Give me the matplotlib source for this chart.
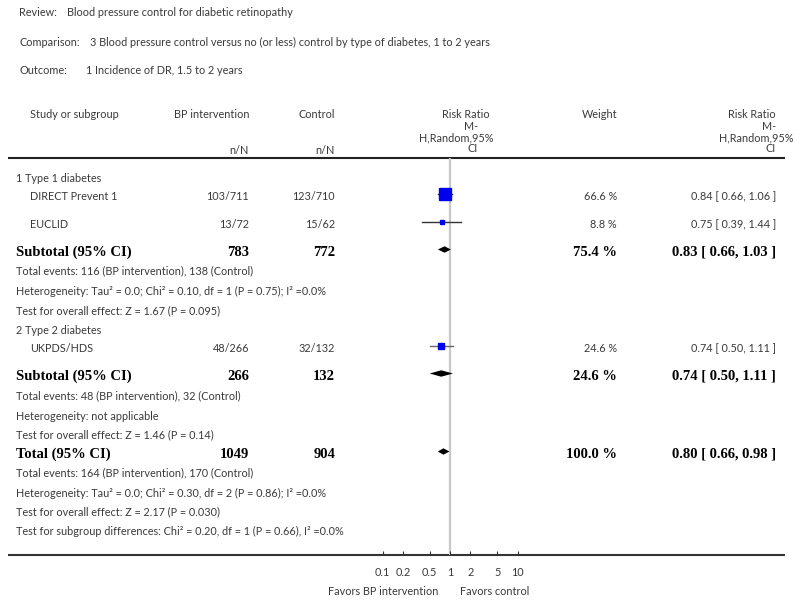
import numpy as np
import matplotlib
matplotlib.use('Agg')
import matplotlib.pyplot as plt

# header info
review = 'Blood pressure control for diabetic retinopathy'
comparison = '3 Blood pressure control versus no (or less) control by type of diabetes, 1 to 2 years'
outcome = '1 Incidence of DR, 1.5 to 2 years'

# study level data
groups = ['1 Type 1 diabetes', '2 Type 2 diabetes']
studies = ['DIRECT Prevent 1', 'EUCLID', 'UKPDS/HDS']
bp_events = [103, 13, 48]
bp_total = [711, 72, 266]
ctl_events = [123, 15, 32]
ctl_total = [710, 62, 132]
rr = [0.84, 0.75, 0.74]
rr_lo = [0.66, 0.39, 0.50]
rr_hi = [1.06, 1.44, 1.11]
weight = [66.6, 8.8, 24.6]

# subtotals / total
sum_labels = ['Subtotal (95% CI)', 'Subtotal (95% CI)', 'Total (95% CI)']
sum_bp_n = [783, 266, 1049]
sum_ctl_n = [772, 132, 904]
sum_weight = [75.4, 24.6, 100.0]
sum_rr = [0.83, 0.74, 0.80]
sum_lo = [0.66, 0.50, 0.66]
sum_hi = [1.03, 1.11, 0.98]

foot1 = ['Total events: 116 (BP intervention), 138 (Control)',
         'Heterogeneity: Tau² = 0.0; Chi² = 0.10, df = 1 (P = 0.75); I² =0.0%',
         'Test for overall effect: Z = 1.67 (P = 0.095)']
foot2 = ['Total events: 48 (BP intervention), 32 (Control)',
         'Heterogeneity: not applicable',
         'Test for overall effect: Z = 1.46 (P = 0.14)']
foot3 = ['Total events: 164 (BP intervention), 170 (Control)',
         'Heterogeneity: Tau² = 0.0; Chi² = 0.30, df = 2 (P = 0.86); I² =0.0%',
         'Test for overall effect: Z = 2.17 (P = 0.030)',
         'Test for subgroup differences: Chi² = 0.20, df = 1 (P = 0.66), I² =0.0%']

xticks = [0.1, 0.2, 0.5, 1, 2, 5, 10]
xtick_labels = ['0.1', '0.2', '0.5', '1', '2', '5', '10']

# layout (pixel rows, y down)
W, H = 800, 602
study_y = [197, 225, 349]
group_y = [178, 330]
sum_y = [252, 376, 454]
foot_y = [[271, 291, 311], [396, 416, 435], [473, 493, 512, 531]]
mark_off = 3

sans = 'Lato'
serif = 'Liberation Serif'
fs = 7.8
fs_b = 10.5
grey = '#3a3a3a'

fig = plt.figure(figsize=(W / 100, H / 100), dpi=100)
tx = fig.add_axes([0, 0, 1, 1])
tx.set_xlim(0, W)
tx.set_ylim(H, 0)
tx.axis('off')

def t(x, y, s, ha='left', bold=False, size=None):
    if bold:
        tx.text(x, y, s, ha=ha, va='center', fontsize=size or fs_b, family=serif,
                fontweight='bold', color='black')
    else:
        tx.text(x, y, s, ha=ha, va='center', fontsize=size or fs, family=sans, color=grey)

# top info
t(19, 13, 'Review:')
t(67, 13, review)
t(19, 42, 'Comparison:')
t(90, 42, comparison)
t(19, 71, 'Outcome:')
t(86, 71, outcome)

# column headers
t(30, 114, 'Study or subgroup')
t(249, 114, 'BP intervention', ha='right')
t(335, 114, 'Control', ha='right')
t(249, 150, 'n/N', ha='right')
t(335, 150, 'n/N', ha='right')
t(490, 114, 'Risk Ratio', ha='right')
t(478, 126, 'M-', ha='right')
t(493, 137.5, 'H,Random,95%', ha='right')
t(478, 149, 'CI', ha='right')
t(617, 114, 'Weight', ha='right')
t(776, 114, 'Risk Ratio', ha='right')
t(776, 126, 'M-', ha='right')
t(793, 137.5, 'H,Random,95%', ha='right')
t(776, 149, 'CI', ha='right')
tx.plot([8, 785], [157.5, 157.5], color='#222222', lw=1.5, solid_capstyle='butt')
tx.plot([8, 785], [554.7, 554.7], color='#333333', lw=1.5, solid_capstyle='butt')

for g, y in zip(groups, group_y):
    t(16, y, g)

for i, s in enumerate(studies):
    y = study_y[i]
    t(30, y, s)
    t(249, y, f'{bp_events[i]}/{bp_total[i]}', ha='right')
    t(335, y, f'{ctl_events[i]}/{ctl_total[i]}', ha='right')
    t(617, y, f'{weight[i]:.1f} %', ha='right')
    t(776, y, f'{rr[i]:.2f} [ {rr_lo[i]:.2f}, {rr_hi[i]:.2f} ]', ha='right')

for i, s in enumerate(sum_labels):
    y = sum_y[i]
    t(16, y, s, bold=True)
    t(249, y, str(sum_bp_n[i]), ha='right', bold=True)
    t(335, y, str(sum_ctl_n[i]), ha='right', bold=True)
    t(617, y, f'{sum_weight[i]:.1f} %', ha='right', bold=True)
    t(776, y, f'{sum_rr[i]:.2f} [ {sum_lo[i]:.2f}, {sum_hi[i]:.2f} ]', ha='right', bold=True)

for lines, ys in zip([foot1, foot2, foot3], foot_y):
    for s, y in zip(lines, ys):
        t(16, y, s)

t(438, 591.5, 'Favors BP intervention', ha='right')
t(460, 591.5, 'Favors control')

# forest plot axes: x log scale, 1 at x=450 px, 67.5 px per decade
px_dec = 67.5
x0, x1 = 370, 530
y_top, y_bot = 158, 554.7
fx = fig.add_axes([x0 / W, 1 - y_bot / H, (x1 - x0) / W, (y_bot - y_top) / H])
fx.patch.set_alpha(0)
fx.set_xscale('log')
fx.set_xlim(10 ** ((x0 - 450) / px_dec), 10 ** ((x1 - 450) / px_dec))
fx.set_ylim(y_bot, y_top)
for sp in fx.spines.values():
    sp.set_visible(False)
fx.axvline(1, color='#c8c8c8', lw=1.6, zorder=1)

for i in range(len(studies)):
    y = study_y[i] - mark_off
    fx.plot([rr_lo[i], rr_hi[i]], [y, y], color='#333333' if i < 2 else '#666666', lw=1, zorder=2)
    side = 1.35 * np.sqrt(weight[i]) * 0.72
    fx.plot(rr[i], y, marker='s', ms=side, color='#0000ee', mec='#0000ee', zorder=3)

for i in range(len(sum_rr)):
    y = sum_y[i] - 2.5
    h = 3.2
    fx.fill([sum_lo[i], sum_rr[i], sum_hi[i], sum_rr[i]], [y, y - h, y, y + h],
            color='black', lw=0, zorder=3)

fx.set_yticks([])
fx.set_xticks(xticks)
fx.set_xticklabels(xtick_labels)
fx.minorticks_off()
fx.tick_params(axis='x', direction='in', length=3, width=0.8, color='#333333',
               labelsize=fs, labelcolor=grey, pad=9)
for lb in fx.get_xticklabels():
    lb.set_family(sans)

fig.savefig('out.png', dpi=100)
